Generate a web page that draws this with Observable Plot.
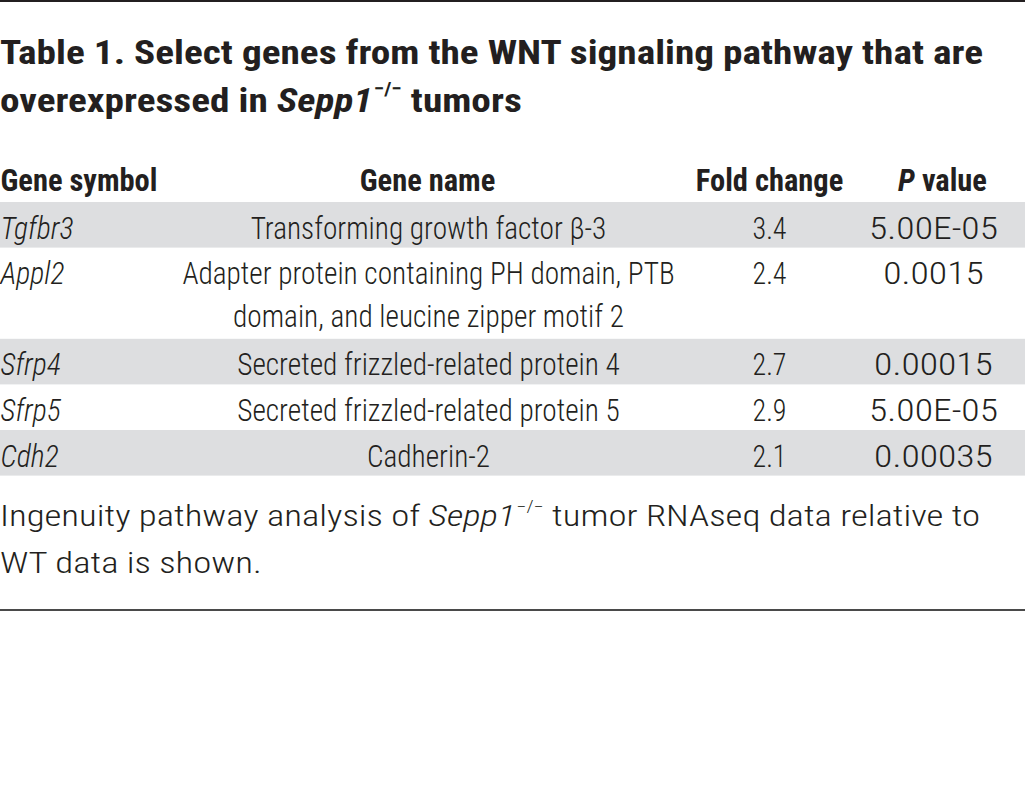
<!DOCTYPE html>
<html>
<head>
<meta charset="utf-8">
<script src="https://cdn.jsdelivr.net/npm/d3@7"></script>
<script src="https://cdn.jsdelivr.net/npm/@observablehq/plot@0.6"></script>
<style>
  html, body { margin: 0; padding: 0; background: #fff; }
  body {
    width: 1025px; height: 796px; position: relative; overflow: hidden; color: #231f20;
    font-family: "Roboto Condensed", "DejaVu Sans Condensed", "Liberation Sans Narrow", Roboto, sans-serif;
  }
  .rule { position: absolute; left: 0; width: 1025px; }
  #topRule { top: 0; height: 2px; background: #231f20; }
  #bottomRule { top: 609px; height: 2px; background: #4a4a4a; }
  #title { position: absolute; left: 0; top: 28px; font-weight: 700; font-size: 34px; line-height: 48px; white-space: nowrap; transform-origin: 0 0; }
  #note { position: absolute; left: 0; top: 495px; font-weight: 300; font-size: 29px; line-height: 43px; white-space: nowrap; transform-origin: 0 0; }
  .line { display: inline-block; }
  .sup { font-size: 0.55em; position: relative; top: -0.9em; margin-left: 1px; }
  #table { position: absolute; left: 0; top: 130px; }
</style>
</head>
<body>
<div id="topRule" class="rule"></div>
<div id="title"><span class="line" id="titleLine1">Table 1. Select genes from the WNT signaling pathway that are</span><br><span class="line">overexpressed in <i>Sepp1</i><span class="sup">−/−</span> tumors</span></div>
<div id="table"></div>
<div id="note"><span class="line" id="noteLine1">Ingenuity pathway analysis of <i>Sepp1</i><span class="sup">−/−</span> tumor RNAseq data relative to</span><br><span class="line">WT data is shown.</span></div>
<div id="bottomRule" class="rule"></div>
<script>
// ---- Data ----
const columnHeaders = ["Gene symbol", "Gene name", "Fold change", "P value"];
const geneSymbols = ["Tgfbr3", "Appl2", "Sfrp4", "Sfrp5", "Cdh2"];
const geneNames = [
  "Transforming growth factor β-3",
  "Adapter protein containing PH domain, PTB\ndomain, and leucine zipper motif 2",
  "Secreted frizzled-related protein 4",
  "Secreted frizzled-related protein 5",
  "Cadherin-2"
];
const foldChanges = [3.4, 2.4, 2.7, 2.9, 2.1];
const pValues = ["5.00E-05", "0.0015", "0.00015", "5.00E-05", "0.00035"];

// ---- Layout (not data) ----
const FONT = '"Roboto Condensed", "DejaVu Sans Condensed", "Liberation Sans Narrow", Roboto, sans-serif';
const INK = "#231f20";
const colX = {symbol: 0, name: 428, fold: 769, p: 933};
const headerX = [0, 427, 769, 942];
const ROW = 45.6, BAND_TOP = 72, SVG_H = 360;
const BODY_SIZE = 31, NAME_LH = 1.38;

let acc = 0;
const rows = geneSymbols.map((symbol, i) => {
  const lines = geneNames[i].split("\n").length;
  const r = {symbol, name: geneNames[i], fold: foldChanges[i], p: pValues[i], y0: acc, y1: acc + lines, shaded: i % 2 === 0};
  acc += lines;
  return r;
});
const totalUnits = acc;
const headers = columnHeaders.map((label, i) => ({label, x: headerX[i], y: 0}));
const fmt = d3.format(".1f");

const bodyOpts = {y: "y0", lineAnchor: "top", dy: 14, fontSize: BODY_SIZE, fontWeight: 300, fill: INK};
const chart = Plot.plot({
  width: 1025, height: SVG_H,
  marginTop: 0, marginRight: 0, marginBottom: 0, marginLeft: 0,
  x: {domain: [0, 1025], range: [0, 1025], axis: null},
  y: {domain: [0, totalUnits], range: [BAND_TOP, BAND_TOP + totalUnits * ROW], axis: null},
  style: {fontFamily: FONT, color: INK, background: "transparent", overflow: "visible"},
  marks: [
    Plot.rect(rows.filter(d => d.shaded), {y1: "y0", y2: "y1", fill: "#dddee0"}),
    Plot.text(headers.slice(0, 1), {x: "x", y: "y", text: "label", textAnchor: "start", lineAnchor: "bottom", dy: -12, fontSize: 32, fontWeight: 700, fill: INK}),
    Plot.text(headers.slice(1), {x: "x", y: "y", text: "label", textAnchor: "middle", lineAnchor: "bottom", dy: -12, fontSize: 32, fontWeight: 700, fill: INK}),
    Plot.text(rows, {...bodyOpts, x: () => colX.symbol, text: "symbol", textAnchor: "start", fontStyle: "italic"}),
    Plot.text(rows, {...bodyOpts, x: () => colX.name, text: "name", textAnchor: "middle", lineHeight: NAME_LH,
                     dy: 14 - 0.71 * (NAME_LH - 1) * BODY_SIZE}),
    Plot.text(rows, {...bodyOpts, x: () => colX.fold, text: d => fmt(d.fold), textAnchor: "middle"}),
    Plot.text(rows, {...bodyOpts, x: () => colX.p, text: "p", textAnchor: "middle"})
  ]
});
document.getElementById("table").append(chart);

// text-mark groups, in mark order
const groups = [...chart.querySelectorAll(':scope > g[aria-label="text"]')];
const [gHead0, gHead1, gSym, gName, gFold, gP] = groups;

// Italic "P" in the "P value" header
gHead1.querySelectorAll("text").forEach(t => {
  if (t.textContent === "P value") {
    t.textContent = "";
    const ns = "http://www.w3.org/2000/svg";
    const a = document.createElementNS(ns, "tspan");
    a.setAttribute("font-style", "italic");
    a.textContent = "P";
    t.append(a, document.createTextNode("\u00a0value"));
  }
});

// Condense glyphs horizontally to match the narrow typeface of the original
function widthOf(g, str) {
  const t = [...g.querySelectorAll("text")].find(t => t.textContent === str);
  return t ? t.getBBox().width : null;
}
function condense(g, f) {
  if (!isFinite(f) || !g) return;
  g.querySelectorAll("text").forEach(t => t.setAttribute("transform", (t.getAttribute("transform") || "") + ` scale(${f},1)`));
}
const fHead = 157 / widthOf(gHead0, "Gene symbol");
const fBody = 356 / widthOf(gName, "Transforming growth factor β-3");
const fSym = 73 / widthOf(gSym, "Tgfbr3");
const fFold = 34 / widthOf(gFold, "3.4");
const fP = 129 / widthOf(gP, "5.00E-05");
condense(gHead0, fHead);
condense(gHead1, fHead);
condense(gName, fBody);
condense(gFold, fFold);
condense(gP, fP);
condense(gSym, fSym);

const fTitle = 983 / document.getElementById("titleLine1").getBoundingClientRect().width;
document.getElementById("title").style.transform = `scaleX(${fTitle})`;
const fNote = 980 / document.getElementById("noteLine1").getBoundingClientRect().width;
document.getElementById("note").style.transform = `scaleX(${fNote})`;
</script>
</body>
</html>
